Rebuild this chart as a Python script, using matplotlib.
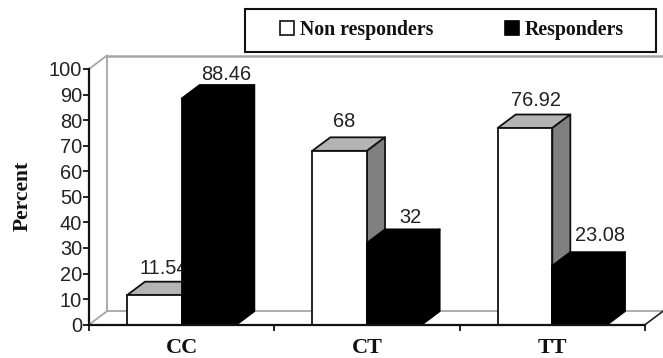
import matplotlib
matplotlib.use("Agg")
import matplotlib.pyplot as plt
from matplotlib.patches import Polygon, Patch, Rectangle
from matplotlib.lines import Line2D

categories = ["CC", "CT", "TT"]
non_responders = [11.54, 68, 76.92]
responders = [88.46, 32, 23.08]
non_label = ["11.54", "68", "76.92"]
res_label = ["88.46", "32", "23.08"]
yticks = list(range(0, 101, 10))

W, H = 663, 358
fig = plt.figure(figsize=(W / 100, H / 100), dpi=100, facecolor="white")
L, R, B, T = 89, 645, 324.7, 69
ax = fig.add_axes([L / W, 1 - B / H, (R - L) / W, (B - T) / H])
ax.set_xlim(0, 3)
ax.set_ylim(0, 100)
ax.patch.set_visible(False)

SANS = "Liberation Sans"
SERIF = "Liberation Serif"
NUM = 14.4
dx = 18 / ((R - L) / 3)
dy = 13.5 / ((B - T) / 100)
bw = 0.295
GREY = "#a6a6a6"

# walls
for xs, ys, lw in [
    ([0, dx], [100, 100 + dy], 1.3),
    ([dx, 3 + dx], [100 + dy, 100 + dy], 1.8),
    ([dx, dx], [dy, 100 + dy], 1.3),
    ([0, dx], [0, dy], 1.3),
    ([dx, 3 + dx], [dy, dy], 1.3),
    ([3 + dx, 3 + dx], [dy, 100 + dy], 0.5),
]:
    ax.add_line(Line2D(xs, ys, color=GREY, lw=lw, clip_on=False, zorder=1))
ax.add_line(Line2D([3, 3 + dx], [0, dy], color="#222222", lw=1.2, clip_on=False, zorder=1))


def box(x0, w, h, front, top, side, ec, z):
    ax.bar(x0, h, w, align="edge", color=front, edgecolor=ec, linewidth=1.3, zorder=z + 0.2, clip_on=False)
    ax.add_patch(Polygon([(x0, h), (x0 + dx, h + dy), (x0 + w + dx, h + dy), (x0 + w, h)],
                         fc=top, ec=ec, lw=1.3, zorder=z, clip_on=False, joinstyle="round"))
    ax.add_patch(Polygon([(x0 + w, 0), (x0 + w + dx, dy), (x0 + w + dx, h + dy), (x0 + w, h)],
                         fc=side, ec=ec, lw=1.3, zorder=z, clip_on=False, joinstyle="round"))


lab_off_non = [(9, 8), (4.5, 10), (11, 8.5)]
lab_off_res = [(17, 5), (16, 6.5), (20, 11)]
for i in range(3):
    c = i + 0.5
    z = 3 + i * 3
    box(c - bw, bw, non_responders[i], "white", "#b4b4b4", "#808080", "#111111", z)
    box(c, bw, responders[i], "black", "black", "black", "black", z + 1.5)
    ax.annotate(non_label[i], (c - bw / 2, non_responders[i] + dy), xytext=(lab_off_non[i][0] * .72, lab_off_non[i][1] * .72),
                textcoords="offset points", ha="center", va="baseline", fontsize=NUM, family=SANS,
                color="#222222", zorder=z + 1, annotation_clip=False)
    ax.annotate(res_label[i], (c + bw / 2, responders[i] + dy), xytext=(lab_off_res[i][0] * .72, lab_off_res[i][1] * .72),
                textcoords="offset points", ha="center", va="baseline", fontsize=NUM, family=SANS,
                color="#222222", zorder=z + 2, annotation_clip=False)

for s in ("top", "right"):
    ax.spines[s].set_visible(False)
for s in ("left", "bottom"):
    ax.spines[s].set_linewidth(1.6)
    ax.spines[s].set_color("#111111")
    ax.spines[s].set_zorder(30)

ax.set_yticks(yticks)
ax.tick_params(axis="y", length=4, width=1.3, pad=1, labelsize=NUM, labelcolor="#222222", color="#111111")
for t in ax.get_yticklabels():
    t.set_family(SANS)
ax.set_xticks([0, 1, 2, 3])
ax.set_xticklabels([])
ax.tick_params(axis="x", which="major", length=4, width=1.3, color="#111111")
ax.set_xticks([0.5, 1.5, 2.5], minor=True)
ax.set_xticklabels(categories, minor=True, family=SERIF, fontweight="bold", fontsize=16, color="#111111")
ax.tick_params(axis="x", which="minor", length=0, pad=9.5)

fig.text(22.5 / W, 1 - 196 / H, "Percent", rotation=90, ha="center", va="center",
         family=SERIF, fontweight="bold", fontsize=15.5, color="#111111")

fig.add_artist(Rectangle((245 / W, 1 - 51.5 / H), 411 / W, 42.5 / H, transform=fig.transFigure,
                         fc="white", ec="#111111", lw=1.5))
handles = [Patch(fc="white", ec="#111111", lw=1.2), Patch(fc="black", ec="black", lw=1.2)]
leg = fig.legend(handles, ["Non responders", "Responders"], ncol=2, loc="center",
                 bbox_to_anchor=(452 / W, 1 - 30 / H), bbox_transform=fig.transFigure,
                 frameon=False, prop={"family": SERIF, "weight": "bold", "size": 14.3},
                 handlelength=0.68, handleheight=0.68, handletextpad=0.3, columnspacing=3.65,
                 borderpad=0, borderaxespad=0)
for t in leg.get_texts():
    t.set_color("#111111")

fig.savefig("out.png", dpi=100)
